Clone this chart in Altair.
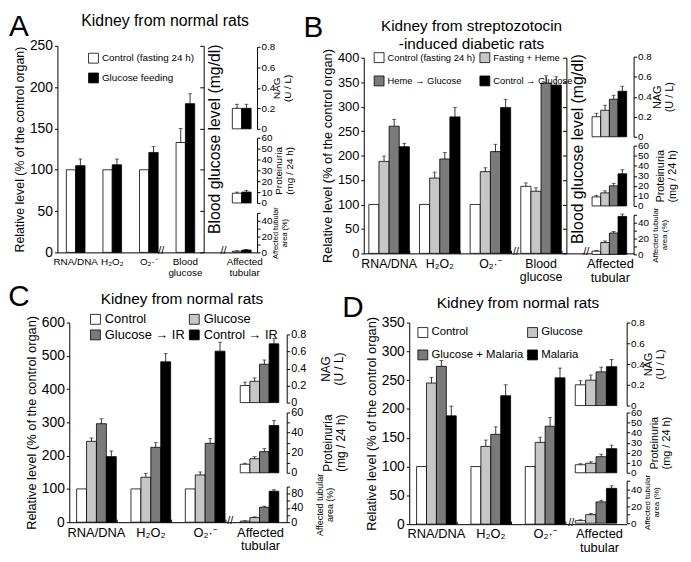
import altair as alt
import pandas as pd

FONT = "Liberation Sans"
W, H = 683, 554
M = 8


def px(v):
    return v - M


COLORS2 = ["#ffffff", "#000000"]
COLORS4 = ["#ffffff", "#c6c6c6", "#7a7a7a", "#000000"]

# ---------------- data ----------------
A_series = ["Control (fasting 24 h)", "Glucose feeding"]
A_cats = ["RNA/DNA", "H₂O₂", "O₂·⁻", "Blood glucose"]
A_main_val = [[100, 100, 100, 133], [105, 106, 121, 180]]
A_main_err = [[0, 0, 0, 17], [8, 7, 7, 12]]
A_nag_val = [0.2, 0.2]
A_nag_err = [0.04, 0.04]
A_prot_val = [9, 10]
A_prot_err = [1, 1.5]
A_aff_val = [1.5, 3]
A_aff_err = [0.5, 0.8]

B_series = ["Control (fasting 24 h)", "Fasting + Heme", "Heme → Glucose", "Control → Glucose"]
B_cats = ["RNA/DNA", "H₂O₂", "O₂·⁻", "Blood glucose"]
B_main_val = [[100, 100, 100, 137], [188, 154, 167, 127], [260, 193, 208, 348], [218, 279, 298, 344]]
B_main_err = [[0, 0, 0, 7], [11, 12, 8, 7], [14, 13, 15, 15], [7, 19, 17, 17]]
B_nag_val = [0.2, 0.265, 0.375, 0.455]
B_nag_err = [0.035, 0.05, 0.04, 0.05]
B_prot_val = [9, 13, 20, 32]
B_prot_err = [1.5, 2, 2.5, 4]
B_aff_val = [4, 15, 27, 48]
B_aff_err = [1, 2, 2, 3]

C_series = ["Control", "Glucose", "Glucose → IR", "Control → IR"]
C_cats = ["RNA/DNA", "H₂O₂", "O₂·⁻"]
C_main_val = [[100, 100, 100], [243, 135, 142], [296, 225, 237], [197, 482, 514]]
C_main_err = [[0, 0, 0], [10, 12, 9], [15, 14, 15], [17, 25, 27]]
C_nag_val = [0.2, 0.25, 0.45, 0.69]
C_nag_err = [0.04, 0.04, 0.05, 0.06]
C_prot_val = [8.5, 14, 21, 47]
C_prot_err = [1, 2, 3, 5]
C_aff_val = [3, 13, 42, 87]
C_aff_err = [1, 2, 3, 4]

D_series = ["Control", "Glucose", "Glucose + Malaria", "Malaria"]
D_cats = ["RNA/DNA", "H₂O₂", "O₂·⁻"]
D_main_val = [[100, 100, 100], [245, 135, 142], [274, 156, 170], [188, 223, 254]]
D_main_err = [[0, 0, 0], [10, 11, 9], [10, 13, 15], [17, 19, 17]]
D_nag_val = [0.2, 0.245, 0.325, 0.375]
D_nag_err = [0.04, 0.05, 0.045, 0.07]
D_prot_val = [8, 9.5, 16, 24]
D_prot_err = [1, 1.5, 2.5, 3.5]
D_aff_val = [3, 10, 25, 41]
D_aff_err = [1, 1.5, 2, 3]

TITLE_NORMAL = "Kidney from normal rats"
TITLE_STZ = "Kidney from streptozotocin\n-induced diabetic rats"
Y_TITLE = "Relative level (% of the control organ)"
BG_TITLE = "Blood glucose level (mg/dl)"
NAG_TITLE = ["NAG", "(U / L)"]
PROT_TITLE = ["Proteinuria", "(mg / 24 h)"]
AFF_TITLE = ["Affected tubular", "area (%)"]

LABEL_EXPR = "datum.label == 'Blood glucose' ? ['Blood', 'glucose'] : datum.label"


def grouped_df(cats, series, vals, errs):
    rows = []
    for s, vr, er in zip(series, vals, errs):
        for c, v, e in zip(cats, vr, er):
            rows.append({"cat": c, "series": s, "val": v, "err": e})
    return pd.DataFrame(rows)


def simple_df(series, vals, errs):
    return pd.DataFrame({"series": series, "val": vals, "err": errs})


def band_scale(cats, xr, pad):
    return alt.Scale(domain=cats, range=[px(xr[0]), px(xr[1])],
                     paddingInner=pad, paddingOuter=pad / 2)


def main_plot(cats, series, colors, vals, errs, xr, pad, ydom, yr, ystep,
              legend, xlab_size, ylab_size, ytitle_size):
    df = grouped_df(cats, series, vals, errs)
    xs = band_scale(cats, xr, pad)
    ys = alt.Scale(domain=ydom, range=[px(yr[0]), px(yr[1])], nice=False, zero=True)
    xo = alt.Scale(domain=series, paddingInner=0, paddingOuter=0)
    xaxis = alt.Axis(orient="bottom", offset=px(yr[0]) - H, title=None, ticks=False,
                     labelAngle=0, labelFontSize=xlab_size,
                     labelPadding=4, labelExpr=LABEL_EXPR, labelLineHeight=xlab_size + 1,
                     labelBaseline="top")
    yaxis = alt.Axis(orient="left", offset=-px(xr[0]),
                     values=list(range(ydom[0], ydom[1] + 1, ystep)),
                     title=Y_TITLE, titleFontSize=ytitle_size, titlePadding=3,
                     labelFontSize=ylab_size, tickSize=3, labelPadding=2, format="d")
    x = alt.X("cat:N", scale=xs, axis=xaxis)
    xoff = alt.XOffset("series:N", scale=xo)
    bars = alt.Chart(df).mark_bar(stroke="black", strokeWidth=0.8).encode(
        x=x, xOffset=xoff,
        y=alt.Y("val:Q", scale=ys, axis=yaxis),
        color=alt.Color("series:N", scale=alt.Scale(domain=series, range=colors), legend=legend),
    )
    eb = alt.Chart(df).transform_filter("datum.err > 0").transform_calculate(hi="datum.val + datum.err")
    rule = eb.mark_rule(color="black", strokeWidth=0.8).encode(
        x=x, xOffset=xoff, y=alt.Y("val:Q", scale=ys, axis=yaxis), y2="hi:Q")
    cap = eb.mark_tick(color="black", thickness=0.8, size=4).encode(
        x=x, xOffset=xoff, y=alt.Y("hi:Q", scale=ys, axis=yaxis))
    return alt.layer(bars, rule, cap)


def band_ticks(cats, xr, pad, base_y):
    ax = alt.Axis(orient="top", offset=-px(base_y), labels=False, domain=False,
                  tickBand="extent", tickSize=3, title=None)
    return alt.Chart(pd.DataFrame({"cat": cats})).mark_point(opacity=0).encode(
        x=alt.X("cat:N", scale=band_scale(cats, xr, pad), axis=ax))


def small_plot(series, colors, vals, errs, xr, ydom, yr, ystep, axis_x, title,
               title_size, title_x, lab_size=10):
    df = simple_df(series, vals, errs)
    xs = alt.Scale(domain=series, range=[px(xr[0]), px(xr[1])], paddingInner=0, paddingOuter=0)
    ys = alt.Scale(domain=ydom, range=[px(yr[0]), px(yr[1])], nice=False, zero=True)
    n = int(round((ydom[1] - ydom[0]) / ystep))
    vals_t = [round(ydom[0] + i * ystep, 3) for i in range(n + 1)]
    yaxis = alt.Axis(orient="right", offset=px(axis_x) - W, values=vals_t, format="~r",
                     title=title, titleAngle=270, titleBaseline="top", titleAlign="center",
                     titleFontSize=title_size, titleX=title_x, titleY=px((yr[0] + yr[1]) / 2),
                     titleLineHeight=title_size + 1,
                     labelFontSize=lab_size, tickSize=3, labelPadding=1)
    x = alt.X("series:N", scale=xs, axis=None)
    bars = alt.Chart(df).mark_bar(stroke="black", strokeWidth=0.8).encode(
        x=x, y=alt.Y("val:Q", scale=ys, axis=yaxis),
        color=alt.Color("series:N", scale=alt.Scale(domain=series, range=colors), legend=None),
    )
    eb = alt.Chart(df).transform_filter("datum.err > 0").transform_calculate(hi="datum.val + datum.err")
    rule = eb.mark_rule(color="black", strokeWidth=0.8).encode(
        x=x, y=alt.Y("val:Q", scale=ys, axis=yaxis), y2="hi:Q")
    cap = eb.mark_tick(color="black", thickness=0.8, size=4).encode(
        x=x, y=alt.Y("hi:Q", scale=ys, axis=yaxis))
    return alt.layer(bars, rule, cap)


def bg_axis(ydom, yr, ystep, axis_x, title_y):
    ys = alt.Scale(domain=ydom, range=[px(yr[0]), px(yr[1])], nice=False)
    ax = alt.Axis(orient="left", offset=-px(axis_x),
                  values=list(range(ydom[0], ydom[1] + 1, ystep)), labels=False, tickSize=4,
                  title=BG_TITLE, titleFontSize=16, titleAngle=270, titleX=3,
                  titleY=px(title_y), titleBaseline="top", titleAlign="center")
    return alt.Chart(pd.DataFrame({"v": [0]})).mark_point(opacity=0).encode(
        y=alt.Y("v:Q", scale=ys, axis=ax))


def aff_axis(xr, center, base_y, size):
    xs = alt.Scale(domain=["Affected tubular"], range=[px(xr[0]), px(xr[1])],
                   paddingInner=0, paddingOuter=0)
    ax = alt.Axis(orient="bottom", offset=px(base_y) - H, title=None, ticks=False,
                  labelAngle=0, labelFontSize=size, labelPadding=4,
                  labelExpr="['Affected', 'tubular']", labelLineHeight=size + 1,
                  labelOffset=center - (xr[0] + xr[1]) / 2, labelBaseline="top")
    return alt.Chart(pd.DataFrame({"lab": ["Affected tubular"]})).mark_point(opacity=0).encode(
        x=alt.X("lab:N", scale=xs, axis=ax))


def text(t, x, y, size, line_height=None):
    kw = dict(fontSize=size, font=FONT, align="center", baseline="middle", lineBreak="\n", color="black")
    if line_height:
        kw["lineHeight"] = line_height
    return alt.Chart(pd.DataFrame({"t": [t]})).mark_text(**kw).encode(
        text="t:N", x=alt.value(px(x)), y=alt.value(px(y)))


def legend(x, y, cols, size, row_pad, col_pad):
    return alt.Legend(orient="none", legendX=px(x), legendY=px(y), columns=cols, title=None,
                      direction="horizontal",
                      symbolType="square", symbolSize=100, symbolStrokeColor="black",
                      symbolStrokeWidth=0.8, labelFontSize=size, labelFont=FONT,
                      rowPadding=row_pad, columnPadding=col_pad, labelOffset=3, padding=0)


layers = []

# ---------- Panel A ----------
layers.append(main_plot(A_cats, A_series, COLORS2, A_main_val, A_main_err, (58, 206), 0.49,
                        [0, 250], (252, 43), 50, legend(89, 50, 1, 10, 5, 4),
                        10, 14, 12.5))
layers.append(bg_axis([0, 250], (252, 43), 50, 206, 137))
layers.append(small_plot(A_series, COLORS2, A_nag_val, A_nag_err, (235, 254), [0, 0.8], (127, 44), 0.2, 260, NAG_TITLE, 10, 15))
layers.append(small_plot(A_series, COLORS2, A_prot_val, A_prot_err, (235, 254), [0, 60], (202, 136), 10, 260, PROT_TITLE, 10, 17))
layers.append(small_plot(A_series, COLORS2, A_aff_val, A_aff_err, (235, 254), [0, 50], (252, 212), 10, 260, AFF_TITLE, 7.5, 15))
layers.append(aff_axis((206, 260), 247, 252, 10))
layers += [text("//", 163, 251, 11), text("//", 226, 251, 11)]
layers += [text(TITLE_NORMAL, 167, 18, 16), text("A", 19, 24, 30)]

# ---------- Panel B ----------
layers.append(main_plot(B_cats, B_series, COLORS4, B_main_val, B_main_err, (368, 573), 0.2,
                        [0, 400], (253, 55), 50, legend(378, 49, 2, 9.5, 9, 2),
                        12.5, 13, 13))
layers.append(band_ticks(B_cats, (368, 573), 0.2, 253))
layers.append(bg_axis([0, 400], (253, 55), 50, 573, 147))
layers.append(small_plot(B_series, COLORS4, B_nag_val, B_nag_err, (599, 634), [0, 0.8], (135, 54), 0.2, 641, NAG_TITLE, 11, 18))
layers.append(small_plot(B_series, COLORS4, B_prot_val, B_prot_err, (599, 634), [0, 60], (205, 144), 10, 641, PROT_TITLE, 11, 21))
layers.append(small_plot(B_series, COLORS4, B_aff_val, B_aff_err, (599, 634), [0, 50], (254, 214), 10, 641, AFF_TITLE, 8, 18))
layers.append(aff_axis((573, 641), 617, 253, 13))
layers += [text("//", 522, 252, 11), text("//", 593, 252, 11)]
layers += [text(TITLE_STZ, 477, 23, 15.5, line_height=18), text("B", 317, 25, 30)]

# ---------- Panel C ----------
layers.append(main_plot(C_cats, C_series, COLORS4, C_main_val, C_main_err, (70, 235), 0.27,
                        [0, 600], (525, 323), 100, legend(90, 313, 2, 13, 1, 2),
                        13, 14, 13))
layers.append(band_ticks(C_cats, (70, 235), 0.27, 525))
layers.append(small_plot(C_series, COLORS4, C_nag_val, C_nag_err, (243, 282), [0, 0.8], (404, 335), 0.2, 290, NAG_TITLE, 12, 34, 11))
layers.append(small_plot(C_series, COLORS4, C_prot_val, C_prot_err, (243, 282), [0, 60], (475, 414), 10, 290, PROT_TITLE, 12, 36, 11))
layers.append(small_plot(C_series, COLORS4, C_aff_val, C_aff_err, (243, 282), [0, 100], (525, 489), 20, 290, AFF_TITLE, 9, 29, 11))
layers.append(aff_axis((235, 290), 263, 525, 13))
layers += [text("//", 233, 524, 11)]
layers += [text(TITLE_NORMAL, 184, 299, 15.5), text("C", 19, 297, 30)]

# ---------- Panel D ----------
layers.append(main_plot(D_cats, D_series, COLORS4, D_main_val, D_main_err, (414, 579), 0.27,
                        [0, 350], (527, 323), 50, legend(422, 327, 2, 11.5, 9, 2),
                        13, 14, 13))
layers.append(band_ticks(D_cats, (414, 579), 0.27, 527))
layers.append(small_plot(D_series, COLORS4, D_nag_val, D_nag_err, (582, 624), [0, 0.8], (407, 323), 0.2, 634, NAG_TITLE, 11, 16))
layers.append(small_plot(D_series, COLORS4, D_prot_val, D_prot_err, (582, 624), [0, 60], (475, 414), 10, 634, PROT_TITLE, 11, 22))
layers.append(small_plot(D_series, COLORS4, D_aff_val, D_aff_err, (582, 624), [0, 50], (526, 483), 10, 634, AFF_TITLE, 8, 17))
layers.append(aff_axis((579, 634), 606, 527, 13))
layers += [text("//", 578, 526, 11)]
layers += [text(TITLE_NORMAL, 524, 303, 15.5), text("D", 357, 308, 30)]

chart = alt.layer(*layers).resolve_scale(
    x="independent", y="independent", color="independent", xOffset="independent"
).properties(
    width=W, height=H, padding=0, autosize=alt.AutoSizeParams(type="none"), background="white"
).configure_view(stroke=None).configure_axis(
    grid=False, labelFont=FONT, titleFont=FONT, titleFontWeight="normal",
    domainColor="black", tickColor="black", labelColor="black", titleColor="black",
    domainWidth=1, tickWidth=1,
).configure_legend(labelColor="black").configure_text(font=FONT)

chart.save("out.html", embed_options={"renderer": "svg", "actions": False})
